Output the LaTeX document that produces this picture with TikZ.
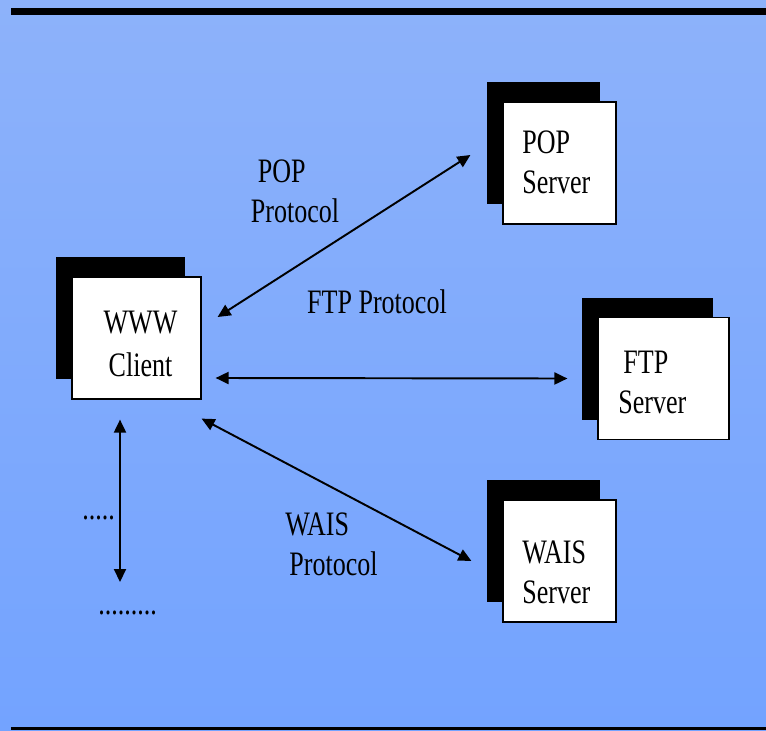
\documentclass[tikz,border=0pt]{standalone}
\usepackage{fontspec}
\setmainfont[FakeStretch=0.76]{Liberation Serif}
\usetikzlibrary{positioning, arrows.meta, shadows}

\definecolor{skytop}{RGB}{141,178,250}
\definecolor{skybot}{RGB}{115,163,255}

\begin{document}
\begin{tikzpicture}[x=0.02cm, y=-0.02cm,
        font=\fontsize{19.5pt}{22.7pt}\selectfont,
        box/.style={rectangle, draw=black, line width=0.7pt, fill=white, minimum height=2.44cm,
            general shadow={fill=black, shadow xshift=-0.32cm, shadow yshift=0.4cm}},
        link/.style={line width=1.1pt, {Triangle[length=0.26cm, width=0.24cm]}-{Triangle[length=0.26cm, width=0.24cm]}},
        tag/.style={align=left, inner sep=0pt}]
    \useasboundingbox (0, 0) rectangle (766, 730);
    \shade[top color=skytop, bottom color=skybot] (0, 0) rectangle (766, 730);
    % bars
    \fill[black] (11, 8) rectangle (766, 15);
    \fill[black] (11, 727) rectangle (766, 730);

    % boxes
    \node[box, minimum width=2.58cm] (client) at (136.5, 338) {};
    \node[box, minimum width=2.26cm] (pop) at (559.5, 163) {};
    \node[box, minimum width=2.62cm] (ftp) at (663.5, 378.5) {};
    \node[box, minimum width=2.26cm] (wais) at (559.5, 561) {};

    \node[tag, align=center] (clienttext) at (140.5, 344) {WWW\\[0.06cm]Client};
    \node[tag, anchor=west] (poptext) at (522, 162) {POP\\Server};
    \node[tag, anchor=west] (ftptext) at (618, 382.5) {\hspace*{0.1cm}FTP\\Server};
    \node[tag, anchor=west] (waistext) at (522, 572.5) {WAIS\\Server};

    % labels
    \node[tag] (popproto) at (295, 191) {\hspace*{0.14cm}POP\\Protocol};
    \node[tag] (ftpproto) at (377, 302) {FTP Protocol};
    \node[tag] (waisproto) at (331.5, 544) {WAIS\\\hspace*{0.08cm}Protocol};
    \node[tag, anchor=base west] (dots1) at (82, 519) {.....};
    \node[tag, anchor=base west] (dots2) at (98, 614) {.........};
    \coordinate (more) at (120, 582);

    \draw[link] ([xshift=0.32cm, yshift=0.42cm]client.east) -- ([xshift=-0.64cm, yshift=0.16cm]pop.west);
    \draw[link] ([xshift=0.28cm, yshift=-0.8cm]client.east) -- ([xshift=-0.6cm]ftp.west);
    \draw[link] ([yshift=-0.38cm]client.south east) -- ([xshift=-0.62cm]wais.west);
    \draw[link] ([xshift=-0.33cm, yshift=-0.4cm]client.south) -- (more);
\end{tikzpicture}
\end{document}
